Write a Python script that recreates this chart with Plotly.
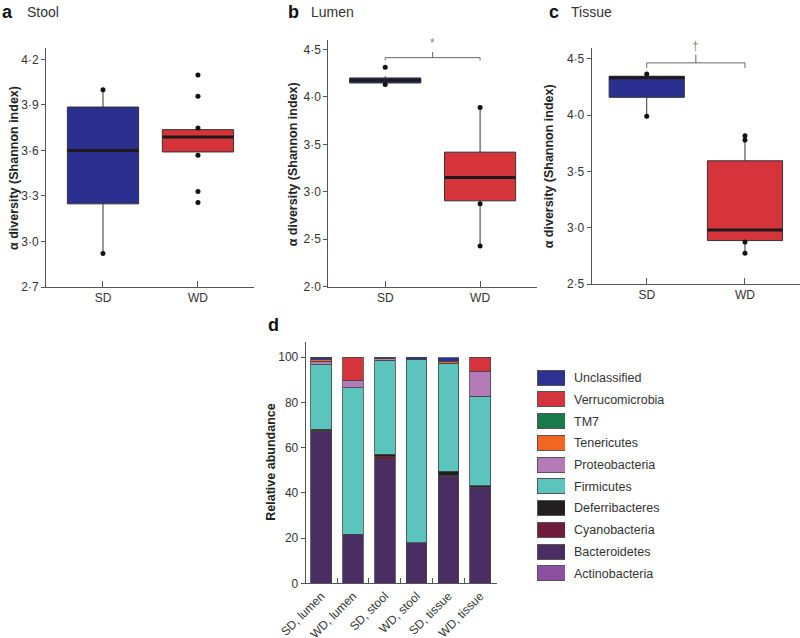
import plotly.graph_objects as go

W, H = 800, 638
FONT = "Liberation Sans, Arial, Helvetica, sans-serif"
TXT = "#333333"
AX = "#555555"

groups = ["SD", "WD"]
box_colors = ["#2b2f8f", "#d5343b"]

# ---- Panel a: Stool ----
a_q1 = [3.248, 3.590]
a_med = [3.600, 3.689]
a_q3 = [3.886, 3.737]
a_lo = [2.920, 3.590]
a_hi = [4.000, 3.737]
a_pts_sd = [4.000, 2.920]
a_pts_wd = [4.097, 3.957, 3.748, 3.568, 3.330, 3.257]
a_ticks = [2.7, 3.0, 3.3, 3.6, 3.9, 4.2]
a_ticktext = ["2·7", "3·0", "3·3", "3·6", "3·9", "4·2"]

# ---- Panel b: Lumen ----
b_q1 = [4.147, 2.905]
b_med = [4.176, 3.151]
b_q3 = [4.200, 3.418]
b_lo = [4.130, 2.428]
b_hi = [4.218, 3.888]
b_pts_sd = [4.313, 4.130]
b_pts_wd = [3.888, 2.874, 2.428]
b_ticks = [2.0, 2.5, 3.0, 3.5, 4.0, 4.5]
b_ticktext = ["2·0", "2·5", "3·0", "3·5", "4·0", "4·5"]
b_bracket = [4.385, 4.414, 4.474]   # end, bar, stem top
b_sig = "*"

# ---- Panel c: Tissue ----
c_q1 = [4.159, 2.886]
c_med = [4.332, 2.981]
c_q3 = [4.346, 3.595]
c_lo = [3.990, 2.773]
c_hi = [4.367, 3.818]
c_pts_sd = [4.367, 3.990]
c_pts_wd = [3.818, 3.780, 2.874, 2.773]
c_ticks = [2.5, 3.0, 3.5, 4.0, 4.5]
c_ticktext = ["2·5", "3·0", "3·5", "4·0", "4·5"]
c_bracket = [4.420, 4.465, 4.539]
c_sig = "†"

# ---- Panel d: relative abundance ----
samples = ["SD, lumen", "WD, lumen", "SD, stool", "WD, stool", "SD, tissue", "WD, tissue"]
Actinobacteria = [0, 0, 0, 0, 0, 0]
Bacteroidetes = [67.2, 21.8, 54.7, 17.9, 47.4, 42.4]
Cyanobacteria = [0.2, 0, 1.2, 0, 0.3, 0]
Deferribacteres = [0.8, 0, 1.2, 0, 1.9, 0.8]
Firmicutes = [28.6, 64.7, 41.5, 81.0, 47.8, 39.6]
Proteobacteria = [1.5, 3.3, 1.0, 0, 0, 11.1]
Tenericutes = [0.6, 0, 0, 0, 0.8, 0]
TM7 = [0, 0, 0, 0, 0, 0]
Verrucomicrobia = [0.3, 10.2, 0, 0, 0, 6.1]
Unclassified = [0.8, 0, 0.4, 1.1, 1.6, 0]
d_ticks = [0, 20, 40, 60, 80, 100]

phyla = [
    ("Actinobacteria", Actinobacteria, "#8c4fa1"),
    ("Bacteroidetes", Bacteroidetes, "#4a2d63"),
    ("Cyanobacteria", Cyanobacteria, "#6e1e3a"),
    ("Deferribacteres", Deferribacteres, "#231f20"),
    ("Firmicutes", Firmicutes, "#5bc5bd"),
    ("Proteobacteria", Proteobacteria, "#b57ab8"),
    ("Tenericutes", Tenericutes, "#f26522"),
    ("TM7", TM7, "#1a7a4a"),
    ("Verrucomicrobia", Verrucomicrobia, "#d5343c"),
    ("Unclassified", Unclassified, "#2e3192"),
]


def px(x):
    return x / W


def py(y):
    return 1 - y / H


fig = go.Figure()
BOXW = 0.75


def add_box_panel(xa, ya, q1, med, q3, lo, hi, pts_sd, pts_wd, boxw):
    for i in range(2):
        fig.add_trace(go.Box(
            x=[i], q1=[q1[i]], median=[med[i]], q3=[q3[i]],
            lowerfence=[lo[i]], upperfence=[hi[i]],
            width=boxw, whiskerwidth=0, fillcolor=box_colors[i],
            line=dict(color="#333333", width=1), boxpoints=False,
            xaxis=xa, yaxis=ya, showlegend=False, hoverinfo="skip"))
        fig.add_trace(go.Scatter(
            x=[i - boxw / 2, i + boxw / 2], y=[med[i], med[i]], mode="lines",
            line=dict(color="#1e1a1b", width=3), xaxis=xa, yaxis=ya,
            showlegend=False, hoverinfo="skip"))
    for i, pts in enumerate([pts_sd, pts_wd]):
        fig.add_trace(go.Scatter(
            x=[i] * len(pts), y=pts, mode="markers",
            marker=dict(color="#111111", size=5), xaxis=xa, yaxis=ya,
            showlegend=False, hoverinfo="skip", cliponaxis=False))


def add_bracket(xa, ya, br, sig):
    end, bar, stem = br
    fig.add_trace(go.Scatter(
        x=[0, 0, 1, 1], y=[end, bar, bar, end], mode="lines",
        line=dict(color="#666666", width=1), xaxis=xa, yaxis=ya,
        showlegend=False, hoverinfo="skip", cliponaxis=False))
    fig.add_trace(go.Scatter(
        x=[0.5, 0.5], y=[bar, stem], mode="lines",
        line=dict(color="#666666", width=1), xaxis=xa, yaxis=ya,
        showlegend=False, hoverinfo="skip", cliponaxis=False))
    fig.add_annotation(x=0.5, y=stem, xref=xa, yref=ya, text=sig, showarrow=False,
                       yanchor="bottom", yshift=0,
                       font=dict(family=FONT, size=12, color="#888888"))


add_box_panel("x", "y", a_q1, a_med, a_q3, a_lo, a_hi, a_pts_sd, a_pts_wd, BOXW)
add_box_panel("x2", "y2", b_q1, b_med, b_q3, b_lo, b_hi, b_pts_sd, b_pts_wd, BOXW)
add_box_panel("x3", "y3", c_q1, c_med, c_q3, c_lo, c_hi, c_pts_sd, c_pts_wd, 0.765)
add_bracket("x2", "y2", b_bracket, b_sig)
add_bracket("x3", "y3", c_bracket, c_sig)

# stacked bars
for name, vals, col in phyla:
    fig.add_trace(go.Bar(
        x=samples, y=[v if v > 0 else None for v in vals], name=name,
        marker=dict(color=col, line=dict(color="#444444", width=0.8)),
        width=0.65, xaxis="x4", yaxis="y4", showlegend=False, hoverinfo="skip"))

# legend drawn as a small bar chart
leg_names = [p[0] for p in phyla][::-1]
leg_cols = [p[2] for p in phyla][::-1]
fig.add_trace(go.Bar(
    y=leg_names, x=[1] * len(leg_names), orientation="h", width=0.69,
    marker=dict(color=leg_cols, line=dict(color="#555555", width=1)),
    xaxis="x5", yaxis="y5", showlegend=False, hoverinfo="skip"))

tickfont = dict(family=FONT, size=12, color=TXT)


def box_xaxis(dom, rng):
    return dict(domain=dom, range=rng, tickvals=[0, 1], ticktext=groups,
                ticks="inside", ticklen=6, tickcolor=AX, showline=True,
                linecolor=AX, linewidth=1, showgrid=False, zeroline=False,
                tickfont=tickfont, fixedrange=True, automargin=False)


def box_yaxis(dom, rng, tv, tt, anchor):
    return dict(domain=dom, range=rng, tickvals=tv, ticktext=tt, anchor=anchor,
                ticks="outside", ticklen=4, tickcolor=AX, showline=True,
                linecolor=AX, linewidth=1, showgrid=False, zeroline=False,
                tickfont=tickfont, fixedrange=True, automargin=False)


fig.update_layout(
    width=W, height=H, margin=dict(l=0, r=0, t=0, b=0, autoexpand=False),
    paper_bgcolor="white", plot_bgcolor="white", barmode="stack",
    font=dict(family=FONT, color=TXT),
    xaxis=box_xaxis([px(46), px(254)], [-0.6, 1.59]),
    yaxis=box_yaxis([py(287), py(48)], [2.7, 4.275], a_ticks, a_ticktext, "x"),
    xaxis2=dict(box_xaxis([px(328.3), px(537)], [-0.6, 1.6]), anchor="y2"),
    yaxis2=box_yaxis([py(286.7), py(40)], [2.0, 4.6], b_ticks, b_ticktext, "x2"),
    xaxis3=dict(box_xaxis([px(591.7), 1.0], [-0.56, 1.56]), anchor="y3"),
    yaxis3=box_yaxis([py(284), py(47.7)], [2.5, 4.6], c_ticks, c_ticktext, "x3"),
    xaxis4=dict(domain=[px(305.7), px(496.7)], range=[-0.49, 5.52], anchor="y4",
                type="category", tickson="boundaries", ticks="inside", ticklen=5,
                tickcolor=AX, showline=True, linecolor=AX, linewidth=1,
                showgrid=False, tickangle=-45, tickfont=tickfont, fixedrange=True,
                automargin=False),
    yaxis4=dict(domain=[py(583.3), py(341.7)], range=[0, 106.9], anchor="x4",
                tickvals=d_ticks, ticks="outside", ticklen=4, tickcolor=AX,
                showline=True, linecolor=AX, linewidth=1, showgrid=False,
                zeroline=False, tickfont=tickfont, fixedrange=True, automargin=False),
    xaxis5=dict(domain=[px(537), px(565)], range=[0, 1], anchor="y5",
                visible=False, fixedrange=True, automargin=False),
    yaxis5=dict(domain=[py(584.2), py(366.8)], anchor="x5", side="right",
                type="category", categoryarray=leg_names, autorange="reversed",
                showline=False, ticks="", showgrid=False, zeroline=False,
                ticklabelstandoff=8, automargin=False,
                tickfont=dict(family=FONT, size=12.5, color=TXT), fixedrange=True),
)

# axis titles
ytitle = "α diversity (Shannon index)"
for xpix, ypix in [(14, 168), (293.3, 164), (549.3, 166)]:
    fig.add_annotation(x=px(xpix), y=py(ypix), xref="paper", yref="paper",
                       xanchor="center", yanchor="middle",
                       text="<b>" + ytitle + "</b>", textangle=-90, showarrow=False,
                       font=dict(family=FONT, size=12.5, color="#222222"))
fig.add_annotation(x=px(270.7), y=py(462), xref="paper", yref="paper",
                   xanchor="center", yanchor="middle",
                   text="<b>Relative abundance</b>", textangle=-90, showarrow=False,
                   font=dict(family=FONT, size=12.5, color="#222222"))

# panel labels
for letter, lx, title, tx, ly in [("a", 0, "Stool", 25, 12), ("b", 286, "Lumen", 309, 12),
                                   ("c", 547, "Tissue", 569, 12), ("d", 266, "", 0, 325)]:
    fig.add_annotation(x=px(lx), y=py(ly), xref="paper", yref="paper",
                       text="<b>" + letter + "</b>", showarrow=False, xanchor="left",
                       yanchor="middle", font=dict(family=FONT, size=18, color="#111111"))
    if title:
        fig.add_annotation(x=px(tx), y=py(ly), xref="paper", yref="paper",
                           text=title, showarrow=False, xanchor="left", yanchor="middle",
                           font=dict(family=FONT, size=14, color=TXT))

fig.write_html("out.html", config={"displayModeBar": False, "staticPlot": True},
               post_script="document.body.style.margin='0px';")
